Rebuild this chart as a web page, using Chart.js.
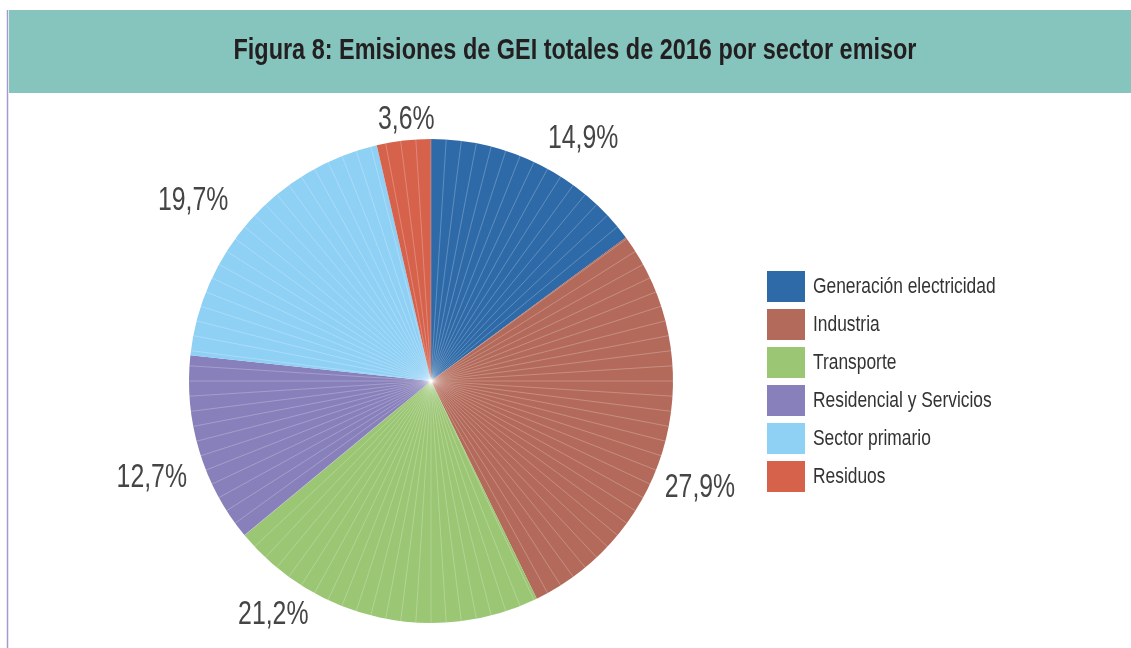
<!DOCTYPE html>
<html>
<head>
<meta charset="utf-8">
<script src="https://cdn.jsdelivr.net/npm/chart.js@4.4.1/dist/chart.umd.min.js"></script>
<style>
  html, body { margin: 0; padding: 0; background: #fff; }
  #wrap { position: relative; width: 1131px; height: 648px; }
</style>
</head>
<body>
<div id="wrap"><canvas id="chart" width="1131" height="648"></canvas></div>
<script>
const chartTitle = "Figura 8: Emisiones de GEI totales de 2016 por sector emisor";
const sectors = ["Generación electricidad", "Industria", "Transporte", "Residencial y Servicios", "Sector primario", "Residuos"];
const shares = [14.9, 27.9, 21.2, 12.7, 19.7, 3.6];
const sliceColors = ["#2E6AA8", "#B36A5A", "#9BC673", "#8780BA", "#8FD0F5", "#D6624C"];

// label placement tweaks (degrees off the slice middle, distance from centre)
const labelShift = [5.2, 7.6, 21.9, -2.1, -4.3, 1.1];
const labelDist = [287, 289, 281, 295, 299, 264];

// draw text squeezed horizontally (the original uses a condensed face)
function drawText(ctx, text, x, y, font, color, sx, align) {
  ctx.save();
  ctx.font = font;
  ctx.fillStyle = color;
  ctx.textBaseline = "middle";
  ctx.textAlign = align || "center";
  ctx.translate(x, y);
  ctx.scale(sx, 1);
  ctx.fillText(text, 0, 0);
  ctx.restore();
}

const decor = {
  id: "decor",
  beforeDraw(chart) {
    const ctx = chart.ctx;
    ctx.save();
    ctx.fillStyle = "#fff";
    ctx.fillRect(0, 0, chart.width, chart.height);
    // title band
    ctx.fillStyle = "#86C5BE";
    ctx.fillRect(9, 10, chart.width - 9, 83);
    // left rule
    ctx.strokeStyle = "#A39BCF";
    ctx.lineWidth = 1.5;
    ctx.beginPath();
    ctx.moveTo(7.5, 10);
    ctx.lineTo(7.5, chart.height);
    ctx.stroke();
    ctx.restore();

    ctx.save();
    ctx.font = "bold 30px 'Liberation Sans Narrow', 'Liberation Sans', sans-serif";
    const w = ctx.measureText(chartTitle).width;
    ctx.restore();
    drawText(ctx, chartTitle, 575, 51, "bold 30px 'Liberation Sans Narrow', 'Liberation Sans', sans-serif", "#231F20", 683 / w);
  },
  afterDatasetsDraw(chart) {
    // faint radial seams like the original's segmented fill
    const ctx = chart.ctx;
    const arc0 = chart.getDatasetMeta(0).data[0];
    ctx.save();
    ctx.strokeStyle = "rgba(255,255,255,0.3)";
    ctx.lineWidth = 0.8;
    for (let k = 0; k < 100; k++) {
      const a = -Math.PI / 2 + k * Math.PI / 50;
      ctx.beginPath();
      ctx.moveTo(arc0.x, arc0.y);
      ctx.lineTo(arc0.x + Math.cos(a) * arc0.outerRadius, arc0.y + Math.sin(a) * arc0.outerRadius);
      ctx.stroke();
    }
    ctx.restore();
  },
  afterDraw(chart) {
    const ctx = chart.ctx;
    const meta = chart.getDatasetMeta(0);
    const values = chart.data.datasets[0].data;
    const labelFont = "34px 'Liberation Sans Narrow', 'Liberation Sans', sans-serif";
    meta.data.forEach((arc, i) => {
      const mid = (arc.startAngle + arc.endAngle) / 2 + labelShift[i] * Math.PI / 180;
      const x = arc.x + Math.cos(mid) * labelDist[i];
      const y = arc.y + Math.sin(mid) * labelDist[i];
      drawText(ctx, values[i].toFixed(1).replace(".", ",") + "%", x, y + 1, labelFont, "#454545", 0.73);
    });

    // legend
    const legendFont = "22px 'Liberation Sans Narrow', 'Liberation Sans', sans-serif";
    chart.data.labels.forEach((lab, i) => {
      const top = 271 + i * 38;
      ctx.fillStyle = chart.data.datasets[0].backgroundColor[i];
      ctx.fillRect(767, top, 38, 31);
      drawText(ctx, lab, 813, top + 16, legendFont, "#333333", 0.79, "left");
    });
  }
};

new Chart(document.getElementById("chart"), {
  type: "pie",
  data: {
    labels: sectors,
    datasets: [{
      data: shares,
      backgroundColor: sliceColors,
      borderWidth: 0
    }]
  },
  options: {
    responsive: false,
    devicePixelRatio: 1,
    animation: false,
    layout: { padding: { top: 139, bottom: 25, left: 189, right: 458 } },
    plugins: {
      legend: { display: false },
      tooltip: { enabled: false }
    }
  },
  plugins: [decor]
});
</script>
</body>
</html>
